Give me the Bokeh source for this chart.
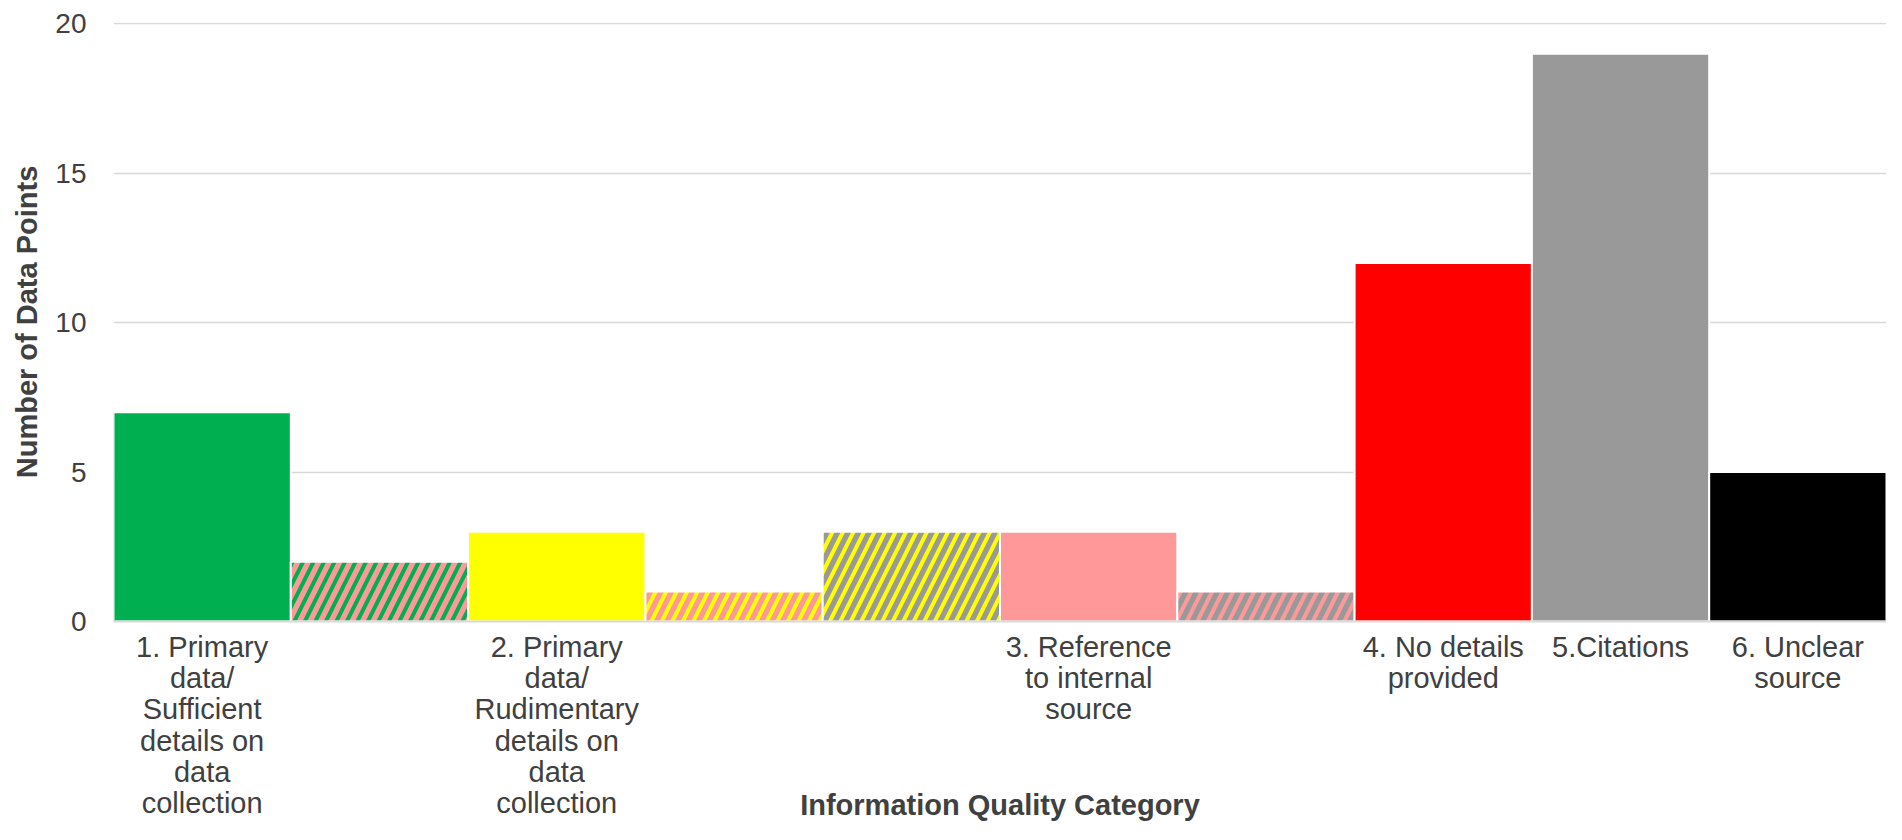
from bokeh.plotting import figure
from bokeh.models import ColumnDataSource, FixedTicker, Range1d
from bokeh.embed import file_html
from bokeh.resources import INLINE

# ---- data ----
bar_labels = [
    "1. Primary\ndata/\nSufficient\ndetails on\ndata\ncollection",
    "",
    "2. Primary\ndata/\nRudimentary\ndetails on\ndata\ncollection",
    "",
    "",
    "3. Reference\nto internal\nsource",
    "",
    "4. No details\nprovided",
    "5.Citations",
    "6. Unclear\nsource",
]
values = [7, 2, 3, 1, 3, 3, 1, 12, 19, 5]
y_ticks = [0, 5, 10, 15, 20]

# ---- styles ----
fill_colors = ["#00B050", "#FF9999", "#FFFF00", "#FF9999", "#999999",
               "#FF9999", "#999999", "#FF0000", "#999999", "#000000"]
hatch_colors = ["#00B050", "#00B050", "#FFFF00", "#FFFF00", "#FFFF00",
                "#FF9999", "#FF9999", "#FF0000", "#999999", "#000000"]
hatch_patterns = [" ", "/", " ", "/", "/", " ", "/", " ", " ", " "]

xs = list(range(len(values)))
src = ColumnDataSource(dict(x=xs, top=values, fill=fill_colors,
                            hatch=hatch_colors, pat=hatch_patterns))

FONT = "Liberation Sans"

p = figure(width=1886, height=824, output_backend="svg", toolbar_location=None,
           x_range=Range1d(-0.5, len(values) - 0.5), y_range=Range1d(0, 20.05))
p.min_border_top = 22
p.min_border_right = 0
p.min_border_left = 113
p.min_border_bottom = 0
p.outline_line_color = None
p.background_fill_color = "white"

p.vbar(x="x", top="top", width=1.0, source=src, fill_color="fill",
       line_color="white", line_width=2,
       hatch_pattern="pat", hatch_color="hatch", hatch_scale=21, hatch_weight=4)

# y axis
p.yaxis.ticker = FixedTicker(ticks=y_ticks)
p.yaxis.axis_line_color = None
p.yaxis.major_tick_line_color = None
p.yaxis.minor_tick_line_color = None
p.yaxis.major_label_text_font = FONT
p.yaxis.major_label_text_font_size = "28px"
p.yaxis.major_label_text_color = "#404040"
p.yaxis.major_label_standoff = 21
p.yaxis.axis_label = "Number of Data Points"
p.yaxis.axis_label_text_font = FONT
p.yaxis.axis_label_text_font_size = "29px"
p.yaxis.axis_label_text_font_style = "bold"
p.yaxis.axis_label_text_color = "#404040"
p.yaxis.axis_label_standoff = 9

# x axis
p.xaxis.ticker = FixedTicker(ticks=[i for i, l in enumerate(bar_labels) if l])
p.xaxis.major_label_overrides = {i: l for i, l in enumerate(bar_labels) if l}
p.xaxis.axis_line_color = "#D9D9D9"
p.xaxis.axis_line_width = 2
p.xaxis.major_tick_line_color = None
p.xaxis.minor_tick_line_color = None
p.xaxis.major_label_text_font = FONT
p.xaxis.major_label_text_font_size = "29px"
p.xaxis.major_label_text_color = "#404040"
p.xaxis.major_label_text_line_height = 0.98
p.xaxis.major_label_standoff = 3
p.xaxis.axis_label = "Information Quality Category"
p.xaxis.axis_label_text_font = FONT
p.xaxis.axis_label_text_font_size = "29px"
p.xaxis.axis_label_text_font_style = "bold"
p.xaxis.axis_label_text_color = "#404040"
p.xaxis.axis_label_standoff = -33

p.xgrid.grid_line_color = None
p.ygrid.ticker = FixedTicker(ticks=y_ticks)
p.ygrid.grid_line_color = "#D9D9D9"
p.ygrid.grid_line_width = 1.5

open("out.html", "w").write(file_html(p, INLINE))
